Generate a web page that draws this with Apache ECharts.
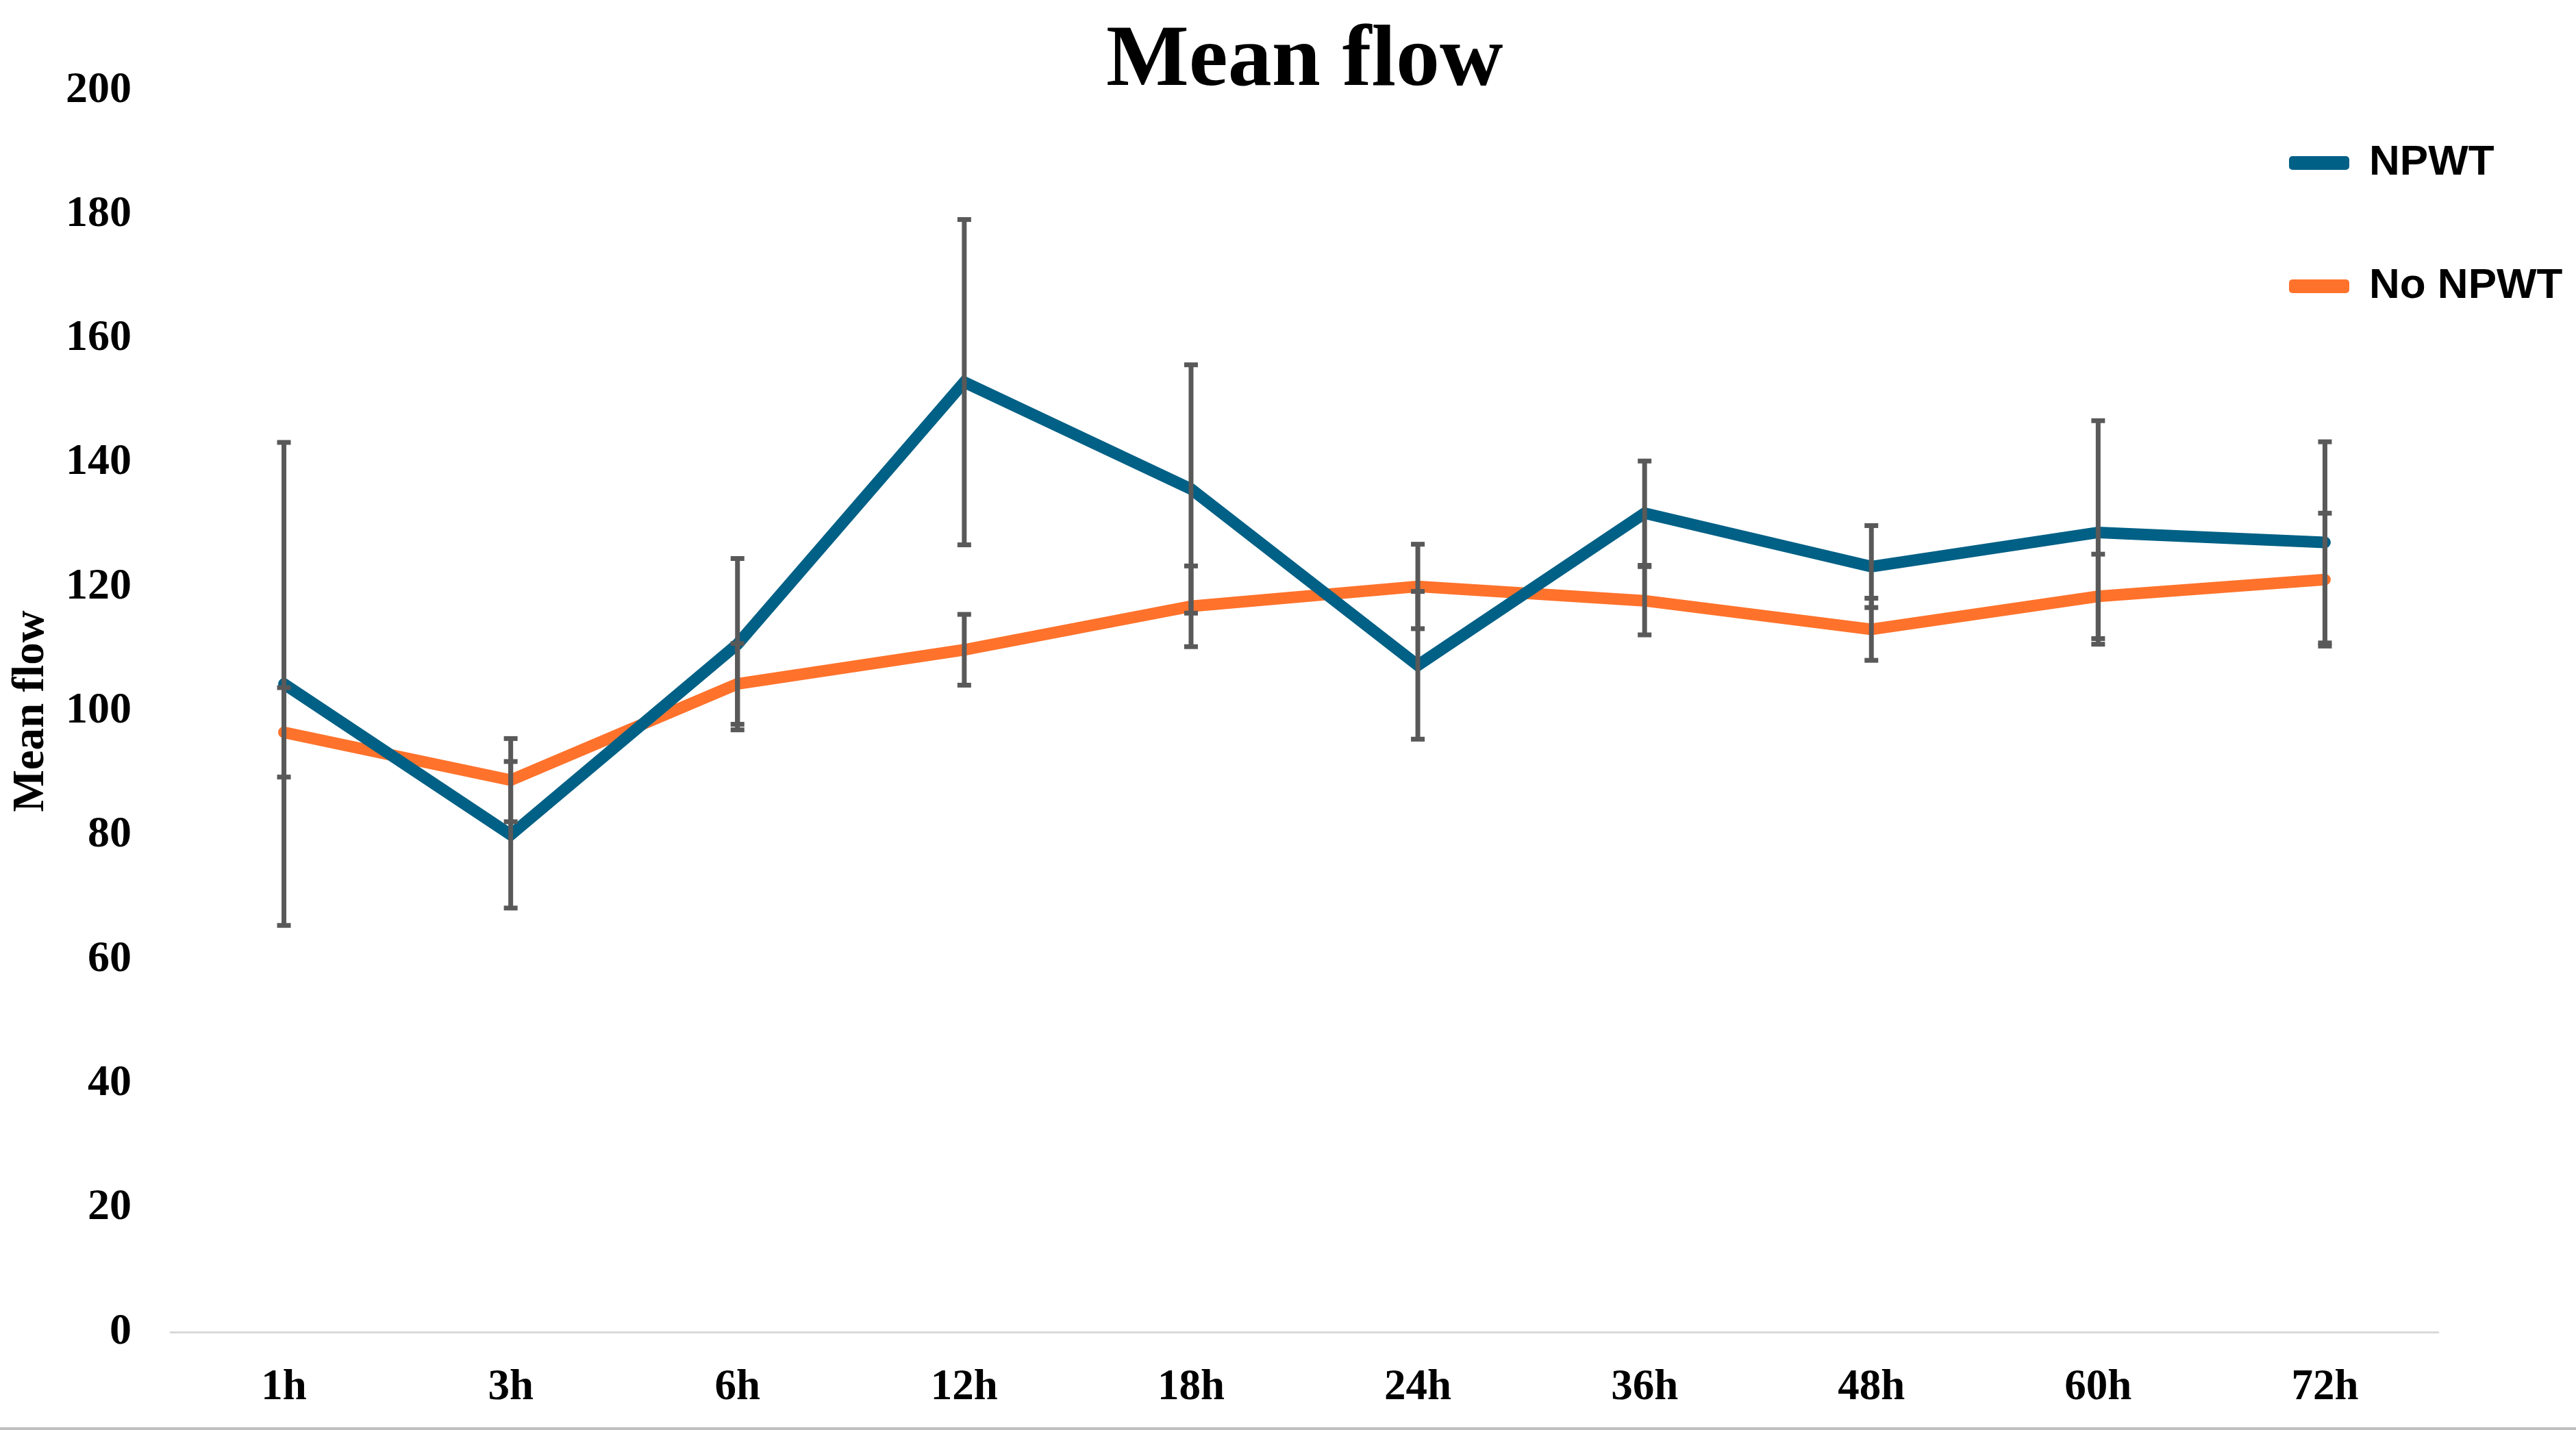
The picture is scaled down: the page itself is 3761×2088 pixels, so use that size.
<!DOCTYPE html>
<html>
<head>
<meta charset="utf-8">
<script src="https://cdn.jsdelivr.net/npm/echarts@6/dist/echarts.min.js"></script>
<style>html,body{margin:0;padding:0;background:#fff}#c{width:3761px;height:2088px}</style>
</head>
<body>
<div id="c"></div>
<script>
const categories = ['1h','3h','6h','12h','18h','24h','36h','48h','60h','72h'];
const npwt = [104.4, 80.1, 110.8, 153.0, 135.8, 107.4, 131.9, 123.3, 128.8, 127.2];
const noNpwt = [96.6, 88.9, 104.4, 109.9, 116.9, 120.1, 117.8, 113.2, 118.5, 121.2];
const npwtErr = [38.9, 11.8, 13.8, 26.2, 20.0, 11.9, 8.4, 6.6, 18.0, 16.2];
const noNpwtErr = [7.2, 6.7, 6.5, 5.7, 6.5, 6.8, 5.5, 5.0, 6.8, 10.7];
const yTicks = {min: 0, max: 200, interval: 20};

const BLUE = '#006085';
const ORANGE = '#FF722B';
const ERR = '#595959';
const SERIF = '"Liberation Serif", "Times New Roman", serif';
const SANS = '"Liberation Sans", Arial, sans-serif';

function errData(vals, errs) {
  return vals.map((v, i) => [i, v - errs[i], v + errs[i]]);
}
function renderErr(params, api) {
  const x = api.value(0);
  const lo = api.coord([x, api.value(1)]);
  const hi = api.coord([x, api.value(2)]);
  const hw = 10;
  const st = {stroke: ERR, lineWidth: 7};
  return {
    type: 'group',
    children: [
      {type: 'line', shape: {x1: lo[0], y1: lo[1], x2: hi[0], y2: hi[1]}, style: {stroke: ERR, lineWidth: 7}},
      {type: 'line', shape: {x1: hi[0] - hw, y1: hi[1], x2: hi[0] + hw, y2: hi[1]}, style: st},
      {type: 'line', shape: {x1: lo[0] - hw, y1: lo[1], x2: lo[0] + hw, y2: lo[1]}, style: st}
    ]
  };
}

const chart = echarts.init(document.getElementById('c'));
chart.setOption({
  backgroundColor: '#fff',
  animation: false,
  title: {
    text: 'Mean flow',
    left: 1610,
    top: 22,
    textStyle: {fontFamily: SERIF, fontWeight: 'bold', fontSize: 128, color: '#000'}
  },
  legend: {
    orient: 'vertical',
    left: 3337,
    top: 202,
    itemWidth: 88,
    itemHeight: 20,
    itemGap: 118,
    icon: 'roundRect',
    textStyle: {fontFamily: SANS, fontWeight: 'bold', fontSize: 62, color: '#000', padding: [0, 0, 0, 24]},
    data: ['NPWT', 'No NPWT']
  },
  grid: {left: 249, right: 201, top: 132, bottom: 143, outerBoundsMode: 'none', containLabel: false},
  xAxis: {
    type: 'category',
    data: categories,
    boundaryGap: true,
    axisLine: {show: true, lineStyle: {color: '#D9D9D9', width: 3}},
    axisTick: {show: false},
    axisLabel: {fontFamily: SERIF, fontWeight: 'bold', fontSize: 63, color: '#000', margin: 50}
  },
  yAxis: {
    type: 'value',
    min: yTicks.min, max: yTicks.max, interval: yTicks.interval,
    name: 'Mean flow',
    nameLocation: 'middle',
    nameRotate: 90,
    nameGap: 170,
    nameTextStyle: {fontFamily: SERIF, fontWeight: 'bold', fontSize: 65, color: '#000'},
    axisLine: {show: false},
    axisTick: {show: false},
    splitLine: {show: false},
    axisLabel: {fontFamily: SERIF, fontWeight: 'bold', fontSize: 64, color: '#000', margin: 57}
  },
  series: [
    {
      name: 'NPWT', type: 'line', data: npwt, symbol: 'none',
      color: BLUE, lineStyle: {color: BLUE, width: 17, cap: 'round', join: 'miter'}, z: 3
    },
    {
      name: 'No NPWT', type: 'line', data: noNpwt, symbol: 'none',
      color: ORANGE, lineStyle: {color: ORANGE, width: 17, cap: 'round', join: 'miter'}, z: 2
    },
    {
      type: 'custom', renderItem: renderErr, data: errData(npwt, npwtErr), z: 10,
      encode: {x: 0, y: [1, 2]}, silent: true
    },
    {
      type: 'custom', renderItem: renderErr, data: errData(noNpwt, noNpwtErr), z: 10,
      encode: {x: 0, y: [1, 2]}, silent: true
    }
  ],
  graphic: [
    {type: 'rect', shape: {x: 0, y: 2084, width: 3761, height: 4}, style: {fill: '#BFBFBF'}, silent: true}
  ]
});
</script>
</body>
</html>
